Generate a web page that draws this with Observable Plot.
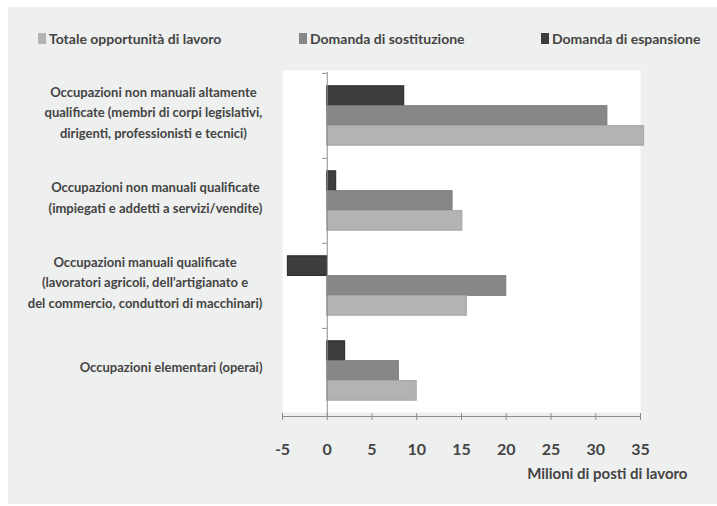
<!DOCTYPE html>
<html><head><meta charset="utf-8">
<script src="https://cdn.jsdelivr.net/npm/d3@7"></script>
<script src="https://cdn.jsdelivr.net/npm/@observablehq/plot@0.6"></script>
<style>
body{margin:0;background:#fff;}
#wrap{position:relative;width:717px;height:506px;overflow:hidden;font-family:Lato,sans-serif;}
#bg{position:absolute;left:8px;top:7px;width:709px;height:497px;background:#eeefef;}
#legend{position:relative;height:60px;}
.item{position:absolute;top:30px;height:16px;font-size:14px;font-weight:bold;color:#444;display:flex;align-items:center;white-space:nowrap;}
.sw{width:8px;height:11px;margin-right:3px;}
#chart{position:relative;}
#chart svg{display:block;}
</style></head>
<body>
<div id="wrap"><div id="bg"></div><div id="legend"></div><div id="chart"></div></div>
<script>
// ---- data ----
const categories = [
  "Occupazioni non manuali altamente\nqualificate (membri di corpi legislativi,\ndirigenti, professionisti e tecnici)",
  "Occupazioni non manuali qualificate\n(impiegati e addetti a servizi/vendite)",
  "Occupazioni manuali qualificate\n(lavoratori agricoli, dell’artigianato e\ndel commercio, conduttori di macchinari)",
  "Occupazioni elementari (operai)"
];
const seriesNames = ["Totale opportunità di lavoro", "Domanda di sostituzione", "Domanda di espansione"];
const totale = [35.4, 15.1, 15.6, 10.0];
const sostituzione = [31.3, 14.0, 20.0, 8.0];
const espansione = [8.6, 1.0, -4.4, 2.0];
const xTicks = [-5, 0, 5, 10, 15, 20, 25, 30, 35];
const xLabel = "Milioni di posti di lavoro";

// ---- styles ----
const fills = {"Totale opportunità di lavoro": "#b3b3b3", "Domanda di sostituzione": "#878787", "Domanda di espansione": "#3d3d3d"};
const strokes = {"Totale opportunità di lavoro": "#a6a6a6", "Domanda di sostituzione": "#7b7b7b", "Domanda di espansione": "#262626"};
const legendLeft = [38, 299, 541];
const font = 'Lato,sans-serif';

// legend
const leg = document.getElementById("legend");
seriesNames.forEach((s, i) => {
  const d = document.createElement("div");
  d.className = "item"; d.style.left = legendLeft[i] + "px";
  d.innerHTML = `<span class="sw" style="background:${fills[s]}"></span>${s}`;
  leg.appendChild(d);
});

const W = 717, H = 446, mT = 12, mB = 93, mL = 282, mR = 77;
const bandH = (H - mT - mB) / categories.length;
const groupFrac = 0.70;
const barH = bandH * groupFrac / 3, pad = bandH * (1 - groupFrac) / 2;

// top-to-bottom order within each group
const stack = [["Domanda di espansione", espansione], ["Domanda di sostituzione", sostituzione], ["Totale opportunità di lavoro", totale]];

const barMarks = stack.map(([name, vals], i) =>
  Plot.barX(categories.map((c, j) => ({c, v: vals[j]})), {
    y: "c", x: "v", fill: fills[name], stroke: strokes[name], strokeWidth: 1,
    insetTop: pad + i * barH, insetBottom: pad + (2 - i) * barH
  })
);

const axisColor = "#8c8c8c";
const plot = Plot.plot({
  width: W, height: H,
  marginTop: mT, marginBottom: mB, marginLeft: mL, marginRight: mR,
  style: {fontFamily: font, fontSize: "13px", fontWeight: "bold", color: "#444", background: "transparent", overflow: "visible"},
  x: {domain: [-5, 35]},
  y: {domain: categories, padding: 0},
  marks: [
    Plot.frame({fill: "white", stroke: "none", insetTop: -2, insetBottom: 1}),
    ...barMarks,
    Plot.ruleX([0], {stroke: axisColor, insetBottom: -3}),
    Plot.ruleY(categories, {y: d => d, x1: -0.5, x2: 0, dy: -bandH / 2, stroke: axisColor}),
    Plot.frame({anchor: "bottom", insetBottom: -3, stroke: axisColor}),
    Plot.axisX({ticks: xTicks, tickFormat: d => String(d), tickSize: 7, tickPadding: 23, stroke: axisColor, fill: "#444", fontSize: 16, label: null}),
    Plot.axisY({tickSize: 0, tickPadding: 20, textAnchor: "end", lineHeight: 1.55, dy: -5, fill: "#444", fontSize: 13, label: null}),
    Plot.text([xLabel], {frameAnchor: "bottom-right", text: d => d, textAnchor: "end", dx: 47, dy: 65, fill: "#444", fontSize: 15})
  ]
});
document.getElementById("chart").appendChild(plot);

// center each multi-line y label within its own block (block right-aligned)
plot.querySelectorAll('g[aria-label="y-axis tick label"] text').forEach(t => {
  const spans = t.querySelectorAll("tspan");
  if (!spans.length) return;
  const w = t.getBBox().width;
  t.setAttribute("text-anchor", "middle");
  spans.forEach(ts => ts.setAttribute("x", -w / 2));
});
</script>
</body></html>
